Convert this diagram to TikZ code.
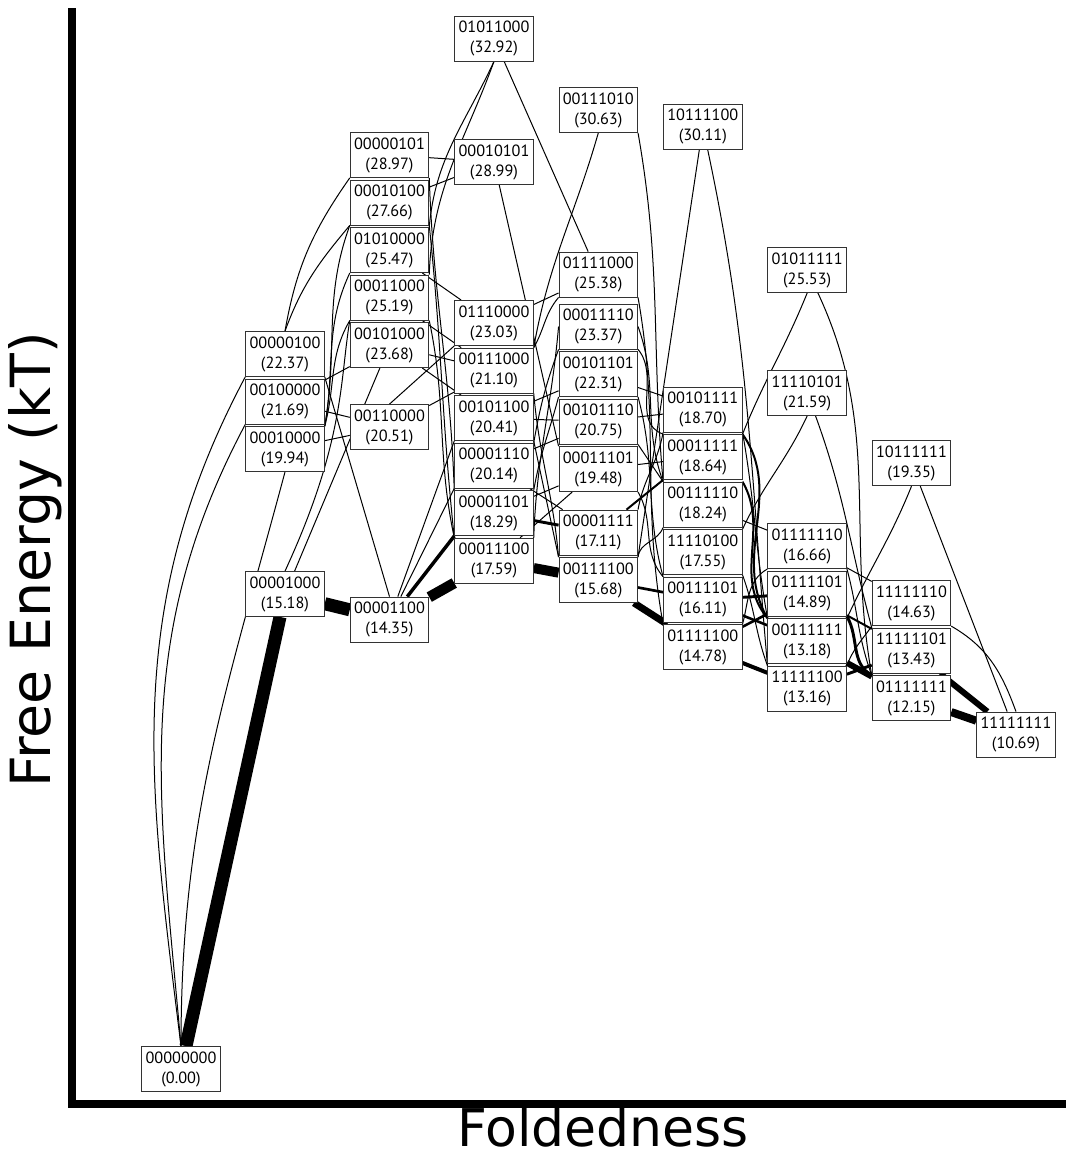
\documentclass[tikz,border=0pt]{standalone}
\usepackage{fontspec}
\setmainfont{PT Sans}
\newfontfamily\axisfont{DejaVu Sans}
\usetikzlibrary{positioning,backgrounds}

\begin{document}
\begin{tikzpicture}[
x=0.75pt, y=0.75pt,
node distance=1.3pt,
state/.style={rectangle, draw=black!80, line width=0.6pt, fill=white, minimum width=59pt, minimum height=33.75pt, inner sep=0pt, align=center, font=\fontsize{12.2}{15}\selectfont},
link/.style={line width=0.75pt},
flux/.style={line width=#1},
axislabel/.style={inner sep=0pt, font=\axisfont\fontsize{39}{46}\selectfont},
]
\useasboundingbox (0,0) rectangle (1066,-1154);

%Axes
\draw[line width=6pt] (72,-8) -- (72,-1104) -- (1066,-1104);
\node[axislabel, rotate=90, font=\axisfont\fontsize{41.5}{48}\selectfont] (ylabel) at (35,-560) {Free Energy (kT)};
\node[axislabel]            (xlabel) at (603,-1127) {Foldedness};

%States
\node[state] (s00000000) at (181,-1069) {00000000\\(0.00)};

\node[state] (s00000100) at (285,-354)       {00000100\\(22.37)};
\node[state] (s00100000) [below=of s00000100] {00100000\\(21.69)};
\node[state] (s00010000) [below=of s00100000] {00010000\\(19.94)};
\node[state] (s00001000) at (285,-594)       {00001000\\(15.18)};

\node[state] (s00000101) at (389.5,-155)     {00000101\\(28.97)};
\node[state] (s00010100) [below=of s00000101] {00010100\\(27.66)};
\node[state] (s01010000) [below=of s00010100] {01010000\\(25.47)};
\node[state] (s00011000) [below=of s01010000] {00011000\\(25.19)};
\node[state] (s00101000) [below=of s00011000] {00101000\\(23.68)};
\node[state] (s00110000) at (389.5,-427)     {00110000\\(20.51)};
\node[state] (s00001100) at (389.5,-619.5)   {00001100\\(14.35)};

\node[state] (s01011000) at (494,-38.5)      {01011000\\(32.92)};
\node[state] (s00010101) at (494,-162)       {00010101\\(28.99)};
\node[state] (s01110000) at (494,-323)       {01110000\\(23.03)};
\node[state] (s00111000) [below=of s01110000] {00111000\\(21.10)};
\node[state] (s00101100) [below=of s00111000] {00101100\\(20.41)};
\node[state] (s00001110) [below=of s00101100] {00001110\\(20.14)};
\node[state] (s00001101) [below=of s00001110] {00001101\\(18.29)};
\node[state] (s00011100) [below=of s00001101] {00011100\\(17.59)};

\node[state] (s00111010) at (598.3,-110)     {00111010\\(30.63)};
\node[state] (s01111000) at (598.3,-274.5)   {01111000\\(25.38)};
\node[state] (s00011110) at (598.3,-326.5)   {00011110\\(23.37)};
\node[state] (s00101101) [below=of s00011110] {00101101\\(22.31)};
\node[state] (s00101110) [below=of s00101101] {00101110\\(20.75)};
\node[state] (s00011101) [below=of s00101110] {00011101\\(19.48)};
\node[state] (s00001111) at (598.3,-532.5)   {00001111\\(17.11)};
\node[state] (s00111100) [below=of s00001111] {00111100\\(15.68)};

\node[state] (s10111100) at (702.8,-126.7)   {10111100\\(30.11)};
\node[state] (s00101111) at (702.8,-409.5)   {00101111\\(18.70)};
\node[state] (s00011111) [below=of s00101111] {00011111\\(18.64)};
\node[state] (s00111110) [below=of s00011111] {00111110\\(18.24)};
\node[state] (s11110100) [below=of s00111110] {11110100\\(17.55)};
\node[state] (s00111101) [below=of s11110100] {00111101\\(16.11)};
\node[state] (s01111100) [below=of s00111101] {01111100\\(14.78)};

\node[state] (s01011111) at (807.2,-270)     {01011111\\(25.53)};
\node[state] (s11110101) at (807.2,-393)     {11110101\\(21.59)};
\node[state] (s01111110) at (807.2,-546)     {01111110\\(16.66)};
\node[state] (s01111101) [below=of s01111110] {01111101\\(14.89)};
\node[state] (s00111111) [below=of s01111101] {00111111\\(13.18)};
\node[state] (s11111100) [below=of s00111111] {11111100\\(13.16)};

\node[state] (s10111111) at (911.5,-463.3)   {10111111\\(19.35)};
\node[state] (s11111110) at (911.5,-603.2)   {11111110\\(14.63)};
\node[state] (s11111101) [below=of s11111110] {11111101\\(13.43)};
\node[state] (s01111111) [below=of s11111101] {01111111\\(12.15)};

\node[state] (s11111111) at (1016,-734.5)    {11111111\\(10.69)};

\begin{pgfonlayer}{background}
%Transitions 0 -> 1
\draw[link] (s00000000.north) to[out=97,in=-118] (s00000100.south west);
\draw[link] (s00000000.north) to[out=95,in=-118] (s00100000.south west);
\draw[link] (s00000000.north) to[out=90,in=-105] (s00010000.south);
\draw[flux=9.75pt] (s00000000) -- (s00001000);

%Transitions 1 -> 2
\draw[link] (s00000100.north) to[out=80,in=-125] (s00000101.south west);
\draw[link] (s00000100.north) to[out=70,in=-130] (s00010100.south west);
\draw[link] (s00000100.south east) -- (s00001100.north);
\draw[link] (s00100000) -- (s00101000);
\draw[link] (s00100000) -- (s00110000);
\draw[link] (s00010000.north east) to[out=80,in=-110] (s00010100.south west);
\draw[link] (s00010000.north east) to[out=80,in=-115] (s01010000.south west);
\draw[link] (s00010000.north east) to[out=75,in=-120] (s00011000.south west);
\draw[link] (s00010000) -- (s00110000);
\draw[link] (s00001000.north) .. controls +(60,130) and +(-10,-60) .. (s00011000.south west);
\draw[link] (s00001000) -- (s00101000);
\draw[flux=9.75pt] (s00001000) -- (s00001100);

%Transitions 2 -> 3
\draw[link] (s00000101) -- (s00010101);
\draw[link] (s00000101.south east) to[out=-88,in=92] (s00001101.north west);
\draw[link] (s00010100) -- (s00010101);
\draw[link] (s00010100.south east) to[out=-84,in=96] (s00011100.north west);
\draw[link] (s01010000.north east) to[out=85,in=-115] (s01011000.south);
\draw[link] (s01010000) -- (s01110000);
\draw[link] (s00011000.north east) to[out=88,in=-110] (s01011000.south);
\draw[link] (s00011000) -- (s00111000);
\draw[link] (s00011000.south east) to[out=-78,in=102] (s00011100.north west);
\draw[link] (s00101000) -- (s00111000);
\draw[link] (s00101000) -- (s00101100);
\draw[link] (s00110000.north) -- (s01110000.south west);
\draw[link] (s00110000) -- (s00111000);
\draw[link] (s00001100) -- (s00101100.south west);
\draw[link] (s00001100) -- (s00001110.south west);
\draw[flux=2.6pt] (s00001100) -- (s00001101.south west);
\draw[flux=8pt] (s00001100) -- (s00011100);

%Transitions 3 -> 4
\draw[link] (s01011000) -- (s01111000);
\draw[link] (s00010101) -- (s00011101.north west);
\draw[link] (s01110000) -- (s01111000);
\draw[link] (s00111000.north east) to[out=80,in=-106] (s00111010.south);
\draw[link] (s00111000.north east) to[out=60,in=-130] (s01111000.south west);
\draw[link] (s00111000.south east) to[out=-85,in=95] (s00111100.north west);
\draw[link] (s00101100) -- (s00101101);
\draw[link] (s00101100) -- (s00101110);
\draw[link] (s00101100.south east) to[out=-78,in=102] (s00111100.north west);
\draw[link] (s00001110.north east) to[out=80,in=-110] (s00011110.south west);
\draw[link] (s00001110) -- (s00101110);
\draw[link] (s00001110) -- (s00001111);
\draw[link] (s00001101.north east) to[out=80,in=-105] (s00101101.south west);
\draw[link] (s00001101) -- (s00011101);
\draw[flux=2.2pt] (s00001101) -- (s00001111);
\draw[link] (s00011100.north east) to[out=88,in=-95] (s00011110.west);
\draw[link] (s00011100) -- (s00011101);
\draw[flux=7.5pt] (s00011100) -- (s00111100);

%Transitions 4 -> 5
\draw[link] (s00111010.south east) to[out=-80,in=95] (s00111110.north west);
\draw[link] (s01111000.south east) to[out=-80,in=100] (s01111100.north west);
\draw[link] (s00011110.south east) to[out=-50,in=160] (s00011111.north west);
\draw[link] (s00011110.east) to[out=-70,in=110] (s00111110.north west);
\draw[link] (s00101101) -- (s00101111);
\draw[link] (s00101101.south east) to[out=-75,in=105] (s00111101.north west);
\draw[link] (s00101110) -- (s00101111);
\draw[link] (s00101110.south east) -- (s00111110.north west);
\draw[link] (s00011101) -- (s00011111);
\draw[link] (s00011101.south east) to[out=-60,in=130] (s00111101.north west);
\draw[link] (s00001111.north east) to[out=80,in=-100] (s00101111.south west);
\draw[flux=1.5pt] (s00001111) -- (s00011111.south west);
\draw[link] (s00111100.north east) -- (s10111100);
\draw[link] (s00111100.north east) to[out=85,in=-110] (s00111110.south west);
\draw[flux=2pt] (s00111100) -- (s00111101);
\draw[flux=5.25pt] (s00111100) -- (s01111100);

%Transitions 5 -> 6
\draw[link] (s10111100) to[out=-78,in=95] (s11111100.north west);
\draw[link] (s00101111.south east) to[out=-80,in=100] (s00111111.north west);
\draw[link] (s00011111.north east) to[out=68,in=-112] (s01011111.south);
\draw[flux=1.5pt] (s00011111.north east) to[out=-55,in=120] (s00111111.north west);
\draw[link] (s00111110) -- (s01111110);
\draw[flux=1.5pt] (s00111110.north east) to[out=-60,in=130] (s00111111.north west);
\draw[link] (s11110100.north east) to[out=65,in=-115] (s11110101.south);
\draw[link] (s11110100.south east) to[out=-70,in=110] (s11111100.north west);
\draw[flux=2.2pt] (s00111101) -- (s01111101);
\draw[flux=1.9pt] (s00111101) -- (s00111111);
\draw[link] (s01111100.north east) to[out=75,in=-150] (s01111110.south west);
\draw[flux=1.9pt] (s01111100) -- (s01111101);
\draw[flux=3pt] (s01111100) -- (s11111100);

%Transitions 6 -> 7
\draw[link] (s01011111) to[out=-65,in=100] (s01111111.north west);
\draw[link] (s11110101) to[out=-70,in=105] (s11111101.north west);
\draw[link] (s01111110) -- (s11111110);
\draw[link] (s01111110.south east) to[out=-75,in=110] (s01111111.north west);
\draw[flux=1.5pt] (s01111101) -- (s11111101);
\draw[flux=2.2pt] (s01111101.south east) to[out=-60,in=150] (s01111111.north west);
\draw[link] (s00111111.north east) to[out=65,in=-112] (s10111111.south);
\draw[flux=4.5pt] (s00111111) -- (s01111111);
\draw[link] (s11111100.north east) to[out=70,in=-125] (s11111110.south west);
\draw[flux=2.2pt] (s11111100) -- (s11111101);

%Transitions 7 -> 8
\draw[link] (s10111111) -- (s11111111);
\draw[link] (s11111110.south east) to[out=-30,in=110] (s11111111.north);
\draw[flux=4.5pt] (s11111101) -- (s11111111);
\draw[flux=6pt] (s01111111) -- (s11111111);
\end{pgfonlayer}
\end{tikzpicture}
\end{document}
